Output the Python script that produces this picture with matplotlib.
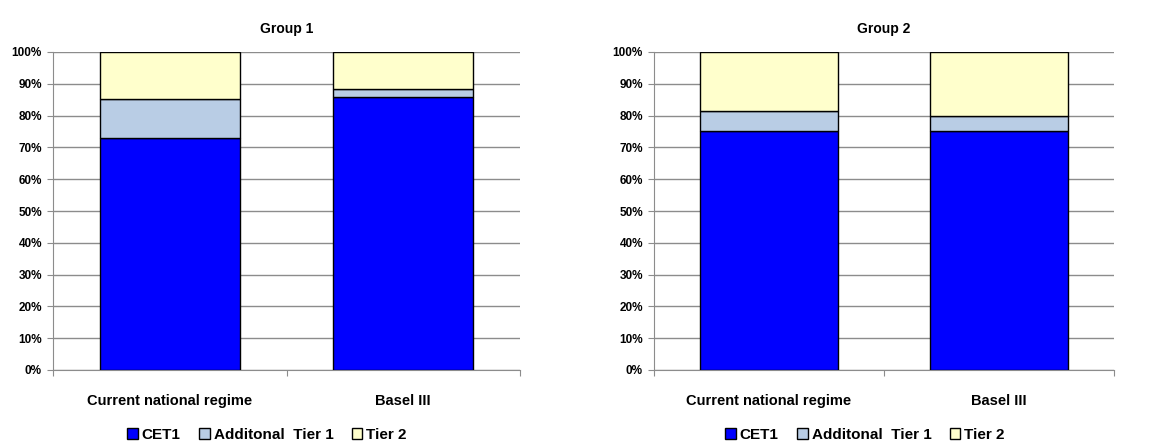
import numpy as np
import matplotlib.pyplot as plt

plt.rcParams['font.family'] = ['Liberation Sans', 'DejaVu Sans']
plt.rcParams['font.weight'] = 'bold'

categories = ['Current national regime', 'Basel III']
series = ['CET1', 'Additonal  Tier 1', 'Tier 2']
colors = ['#0000FF', '#B9CDE5', '#FFFFCC']

group1 = {
    'CET1': [72.9, 85.75],
    'Additonal  Tier 1': [12.2, 2.75],
    'Tier 2': [14.9, 11.5],
}
group2 = {
    'CET1': [75.3, 75.2],
    'Additonal  Tier 1': [6.1, 4.6],
    'Tier 2': [18.6, 20.2],
}
groups = [('Group 1', group1), ('Group 2', group2)]

fig = plt.figure(figsize=(11.68, 4.42), dpi=100)
axes_pos = [(53 / 1168, 72 / 442, 467 / 1168, 318 / 442),
            (654 / 1168, 72 / 442, 460 / 1168, 318 / 442)]
legend_x = [267 / 1168, 865 / 1168]

x = np.arange(len(categories))
for (title, data), pos, lx in zip(groups, axes_pos, legend_x):
    ax = fig.add_axes(pos)
    bottom = np.zeros(len(categories))
    handles = []
    for name, col in zip(series, colors):
        vals = np.array(data[name])
        h = ax.bar(x, vals, 0.6, bottom=bottom, color=col, edgecolor='black',
                   linewidth=1.0, label=name, zorder=3)
        handles.append(h)
        bottom += vals
    ax.set_xlim(-0.5, 1.5)
    ax.set_ylim(0, 100)
    ax.set_yticks(np.arange(0, 101, 10))
    ax.set_yticklabels([f'{v}%' for v in range(0, 101, 10)], fontsize=8.5, fontweight='bold')
    ax.yaxis.grid(True, color='#8c8c8c', linewidth=1.0, zorder=0)
    ax.set_xticks([-0.5, 0.5, 1.5])
    ax.set_xticklabels([])
    ax.set_xticks(x, minor=True)
    ax.set_xticklabels(categories, minor=True, fontsize=10.5, fontweight='bold')
    ax.tick_params(axis='x', which='minor', length=0, pad=17)
    ax.tick_params(axis='x', which='major', length=4, color='#8c8c8c', direction='out')
    ax.tick_params(axis='y', length=4, color='#8c8c8c', direction='out', pad=4)
    for s in ['top', 'right']:
        ax.spines[s].set_visible(False)
    for s in ['left', 'bottom']:
        ax.spines[s].set_color('#8c8c8c')
    ax.set_title(title, fontsize=10, fontweight='bold', pad=14)
    fig.legend(handles=handles, loc='center', bbox_to_anchor=(lx, 7 / 442),
               bbox_transform=fig.transFigure, ncol=3, frameon=False,
               handlelength=0.7, handleheight=0.7, handletextpad=0.25,
               columnspacing=1.2, borderpad=0, borderaxespad=0,
               prop={'weight': 'bold', 'size': 11})

fig.savefig('out.png', dpi=100)
